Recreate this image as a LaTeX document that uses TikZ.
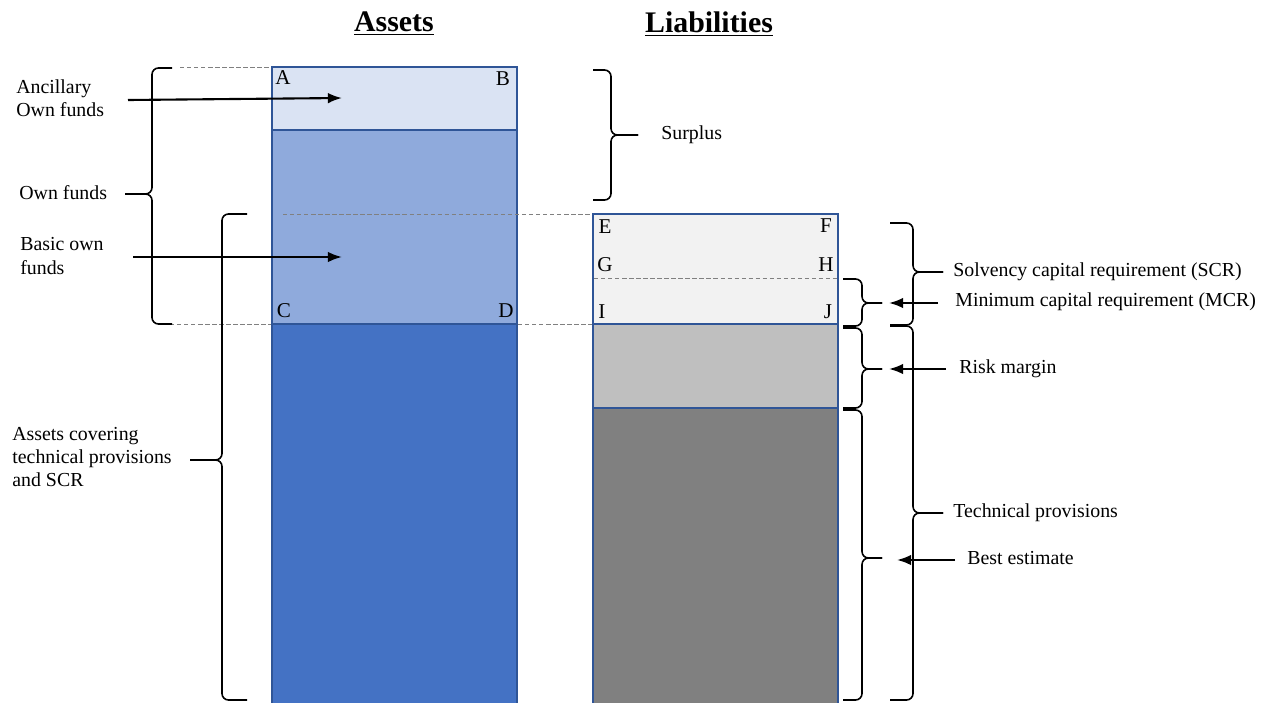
\documentclass[tikz,border=0pt]{standalone}
\usepackage{fontspec}
\setmainfont{Liberation Serif}
\usetikzlibrary{arrows.meta}

\definecolor{bleuA}{HTML}{DAE3F3}
\definecolor{bleuB}{HTML}{8FAADC}
\definecolor{bleuC}{HTML}{4472C4}
\definecolor{bord}{HTML}{2F5597}
\definecolor{grisA}{HTML}{F2F2F2}
\definecolor{grisB}{HTML}{BFBFBF}
\definecolor{grisC}{HTML}{808080}

% accolade : bout, vertical, pointe, haut, milieu, bas
\newcommand{\curly}[6]{%
  \draw[brc] (#1,#4) -- (#2,#4) -- (#2,#5) -- (#3,#5);
  \draw[brc] (#3,#5) -- (#2,#5) -- (#2,#6) -- (#1,#6);}

\begin{document}
\begin{tikzpicture}[x=0.02cm, y=-0.02cm]
  % Styles
  \tikzset{
    bloc/.style={draw=bord, line width=0.6pt},
    tir/.style={dashed, dash pattern=on 2.5pt off 1.5pt, gray, line width=0.5pt},
    brc/.style={line width=0.9pt, rounded corners=0.13cm},
    fl/.style={-{Latex[length=8pt,width=6pt]}, line width=1.2pt},
    txt/.style={anchor=west, inner sep=0pt, align=left, font=\fontsize{11.3}{13.2}\selectfont},
    lettre/.style={inner sep=0pt, font=\fontsize{12}{13}\selectfont},
    titre/.style={font=\fontsize{17}{20}\selectfont},
  }

  \useasboundingbox (0,0) rectangle (1272,703);

  % Titres
  \node[titre] (tA) at (394,24) {\underline{\textbf{Assets}}};
  \node[titre] (tL) at (709,24) {\underline{\textbf{Liabilities}}};

  % Actif
  \filldraw[bloc, fill=bleuA] (272,67) rectangle (517,130);
  \filldraw[bloc, fill=bleuB] (272,130) rectangle (517,324);
  \filldraw[bloc, fill=bleuC] (272,324) rectangle (517,705);

  % Passif
  \filldraw[bloc, fill=grisA] (593,214) rectangle (838,324);
  \filldraw[bloc, fill=grisB] (593,324) rectangle (838,408);
  \filldraw[bloc, fill=grisC] (593,408) rectangle (838,705);

  % Pointilles
  \draw[tir] (180,67) -- (271,67);
  \draw[tir] (283,214) -- (592,214);
  \draw[tir] (170,324) -- (271,324);
  \draw[tir] (518,324) -- (592,324);
  \draw[tir] (594,278) -- (837,278);

  % Lettres
  \foreach \l/\x/\y in {A/283/78, B/503/79, C/284/311, D/506/311,
                        E/605/227, F/826/226, G/605/265, H/826/265,
                        I/602/312, J/828/312}
    \node[lettre] (\l) at (\x,\y) {\l};

  % Textes a gauche
  \node[txt] (anc) at (16,98) {Ancillary\\Own funds};
  \node[txt] (own) at (19,193) {Own funds};
  \node[txt] (bas) at (20,256) {Basic own\\funds};
  \node[txt] (cov) at (12,457) {Assets covering\\technical provisions\\and SCR};

  % Textes a droite
  \node[txt] (sur) at (661,135) {Surplus};
  \node[txt] (scr) at (953,272) {Solvency capital requirement (SCR)};
  \node[txt] (mcr) at (955,302) {Minimum capital requirement (MCR)};
  \node[txt] (rsk) at (959,369) {Risk margin};
  \node[txt] (tp) at (953,513) {Technical provisions};
  \node[txt] (be) at (967,558) {Best estimate};

  % Fleches
  \coordinate (anc1) at (128,100);
  \coordinate (anc2) at (342,98);
  \coordinate (bas1) at (133,257);
  \coordinate (bas2) at (342,257);
  \coordinate (mcr1) at (938,303);
  \coordinate (mcr2) at (889,303);
  \coordinate (rsk1) at (946,369);
  \coordinate (rsk2) at (889,369);
  \coordinate (be1) at (955,560);
  \coordinate (be2) at (897,560);
  \foreach \a in {anc, bas, mcr, rsk, be}
    \draw[fl] (\a1) -- (\a2);

  % Accolades
  \curly{172}{152}{125}{68}{194}{324}
  \curly{247}{222}{190}{214}{460}{700}
  \curly{593}{611}{638}{70}{135}{200}
  \curly{890}{913}{943}{223}{272}{325}
  \curly{843}{862}{882}{279}{303}{326}
  \curly{843}{862}{882}{328}{369}{408}
  \curly{890}{913}{943}{326}{513}{700}
  \curly{843}{862}{882}{410}{558}{700}

\end{tikzpicture}
\end{document}
